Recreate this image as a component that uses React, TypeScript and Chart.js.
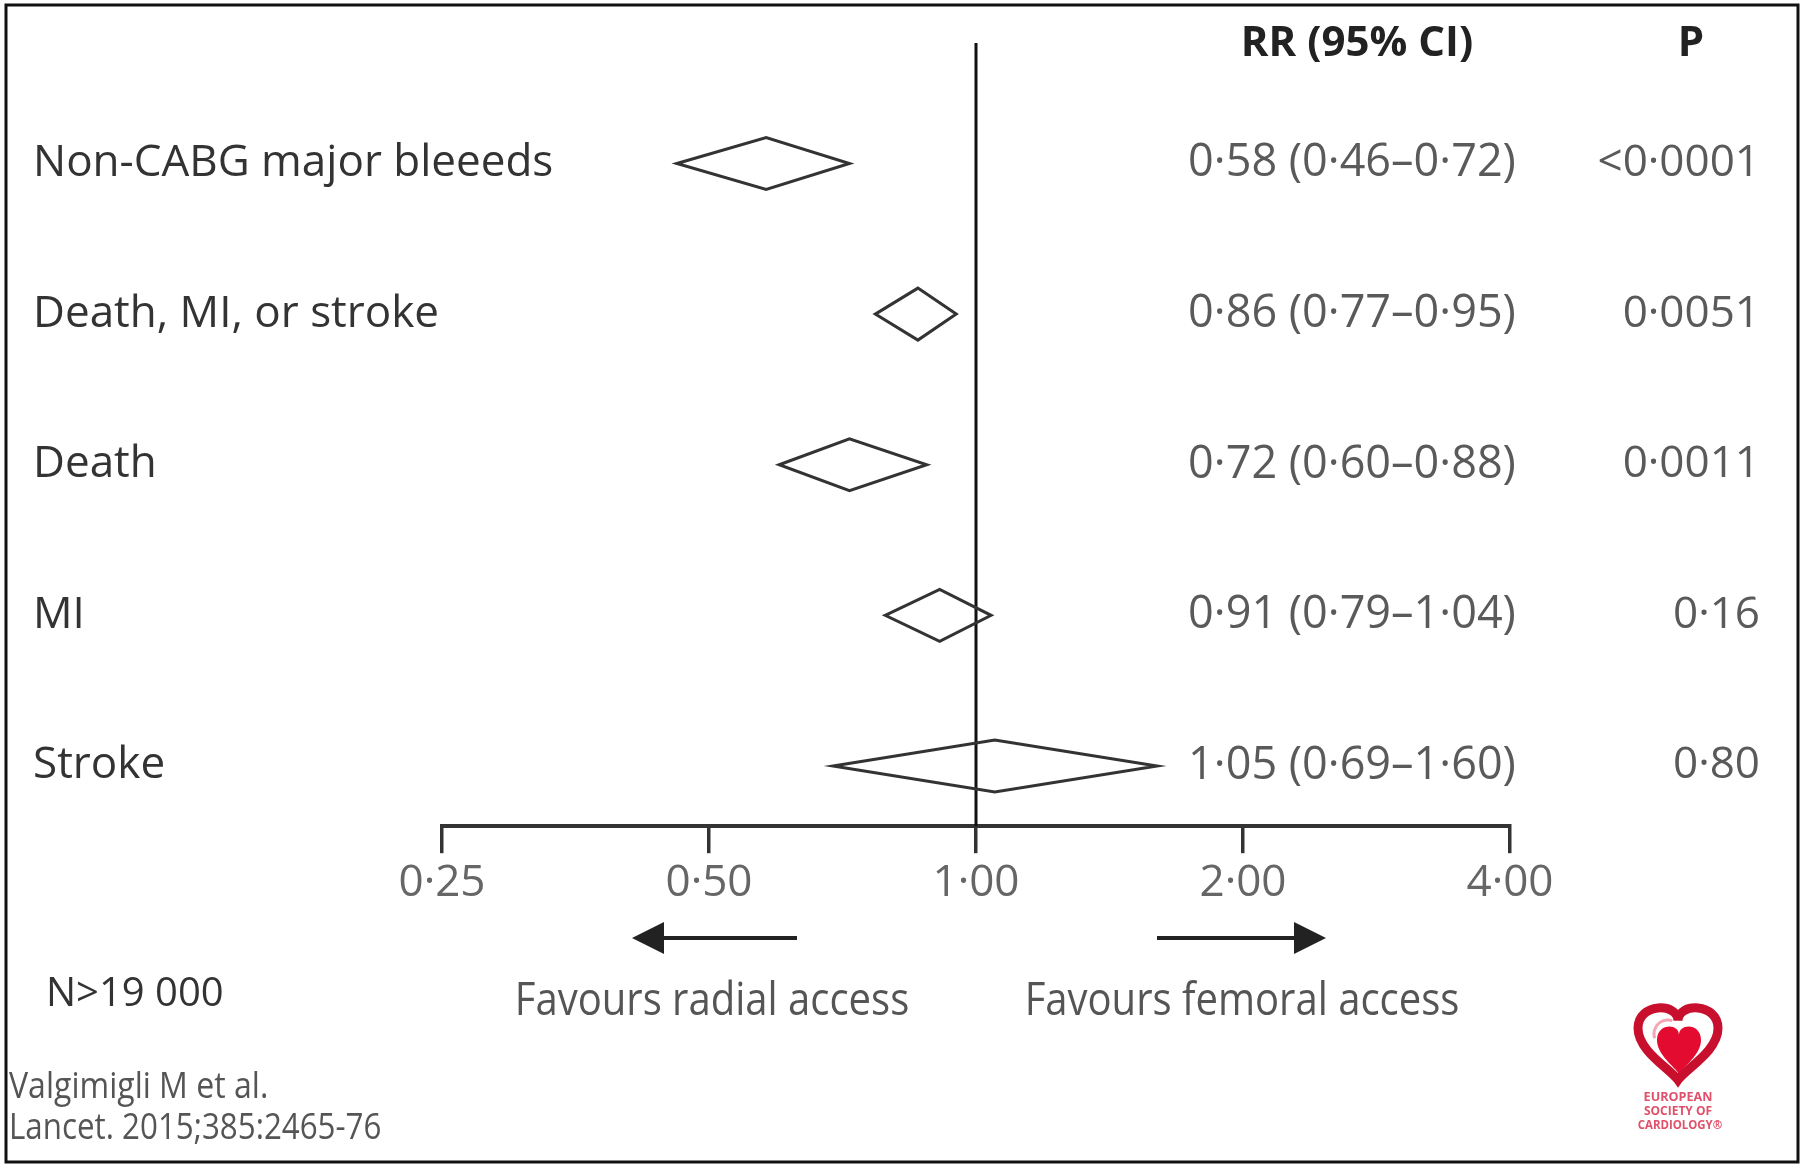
import React, { useEffect, useRef } from "react";
import { Chart, registerables } from "chart.js";

Chart.register(...registerables);

// Outcomes of the radial vs femoral access meta-analysis
const outcomes = ["Non-CABG major bleeeds", "Death, MI, or stroke", "Death", "MI", "Stroke"];
const riskRatio = [0.58, 0.86, 0.72, 0.91, 1.05];
const ciLower = [0.46, 0.77, 0.6, 0.79, 0.69];
const ciUpper = [0.72, 0.95, 0.88, 1.04, 1.6];
const pValues = ["<0·0001", "0·0051", "0·0011", "0·16", "0·80"];
const xTickValues = [0.25, 0.5, 1, 2, 4];

const W = 1806;
const H = 1167;
const FONT = '"Open Sans", "DejaVu Sans", sans-serif';

const fmt = (v: number) => v.toFixed(2).replace(".", "·");

function drawText(
  ctx: CanvasRenderingContext2D,
  text: string,
  x: number,
  y: number,
  font: string,
  color: string,
  align: "left" | "center" | "right",
  sx = 1
) {
  ctx.save();
  ctx.font = font;
  ctx.fillStyle = color;
  ctx.textBaseline = "middle";
  ctx.textAlign = "left";
  const w = ctx.measureText(text).width * sx;
  const left = align === "left" ? x : align === "right" ? x - w : x - w / 2;
  ctx.translate(left, y);
  ctx.scale(sx, 1);
  ctx.fillText(text, 0, 0);
  ctx.restore();
}

function heartPath(ctx: CanvasRenderingContext2D, cx: number, top: number, w: number, h: number) {
  ctx.beginPath();
  ctx.moveTo(cx, top + h * 0.22);
  ctx.bezierCurveTo(cx, top - h * 0.02, cx - w / 2, top - h * 0.02, cx - w / 2, top + h * 0.32);
  ctx.bezierCurveTo(cx - w / 2, top + h * 0.62, cx - w * 0.1, top + h * 0.85, cx, top + h);
  ctx.bezierCurveTo(cx + w * 0.1, top + h * 0.85, cx + w / 2, top + h * 0.62, cx + w / 2, top + h * 0.32);
  ctx.bezierCurveTo(cx + w / 2, top - h * 0.02, cx, top - h * 0.02, cx, top + h * 0.22);
  ctx.closePath();
}

function arrow(ctx: CanvasRenderingContext2D, from: number, to: number, y: number) {
  const dir = Math.sign(to - from);
  const headLen = 32;
  const headHalf = 16;
  ctx.save();
  ctx.strokeStyle = "#222";
  ctx.fillStyle = "#222";
  ctx.lineWidth = 4;
  ctx.beginPath();
  ctx.moveTo(from, y);
  ctx.lineTo(to - dir * headLen * 0.8, y);
  ctx.stroke();
  ctx.beginPath();
  ctx.moveTo(to, y);
  ctx.lineTo(to - dir * headLen, y - headHalf);
  ctx.lineTo(to - dir * headLen, y + headHalf);
  ctx.closePath();
  ctx.fill();
  ctx.restore();
}

const forestPlugin = {
  id: "forestPlot",
  afterDatasetsDraw(chart: any) {
    const ctx: CanvasRenderingContext2D = chart.ctx;
    const xs = chart.scales.x;
    const ys = chart.scales.y;
    const area = chart.chartArea;

    // line of no effect
    const x1 = xs.getPixelForValue(1);
    ctx.save();
    ctx.strokeStyle = "#111";
    ctx.lineWidth = 3;
    ctx.beginPath();
    ctx.moveTo(x1, area.top);
    ctx.lineTo(x1, area.bottom);
    ctx.stroke();
    ctx.restore();

    // diamonds: estimate with confidence interval
    const half = 26;
    ctx.save();
    ctx.strokeStyle = "#333";
    ctx.lineWidth = 3;
    ctx.lineJoin = "miter";
    outcomes.forEach((_, i) => {
      const y = ys.getPixelForValue(i);
      const lo = xs.getPixelForValue(ciLower[i]);
      const mid = xs.getPixelForValue(riskRatio[i]);
      const hi = xs.getPixelForValue(ciUpper[i]);
      ctx.beginPath();
      ctx.moveTo(lo, y);
      ctx.lineTo(mid, y - half);
      ctx.lineTo(hi, y);
      ctx.lineTo(mid, y + half);
      ctx.closePath();
      ctx.stroke();
    });
    ctx.restore();

    // headers
    drawText(ctx, "RR (95% CI)", 1357, 44, `bold 42px ${FONT}`, "#222", "center");
    drawText(ctx, "P", 1691, 44, `bold 42px ${FONT}`, "#222", "center");

    // row labels and statistics
    outcomes.forEach((name, i) => {
      const y = ys.getPixelForValue(i);
      drawText(ctx, name, 33, y, `44px ${FONT}`, "#333", "left");
      const rrText = `${fmt(riskRatio[i])} (${fmt(ciLower[i])}–${fmt(ciUpper[i])})`;
      drawText(ctx, rrText, 1352, y, `45px ${FONT}`, "#5a5a5a", "center");
      drawText(ctx, pValues[i], 1760, y, `44px ${FONT}`, "#5a5a5a", "right");
    });

    // direction arrows
    arrow(ctx, 797, 632, 938);
    arrow(ctx, 1157, 1326, 938);
    drawText(ctx, "Favours radial access", 712, 1002, `46px ${FONT}`, "#555", "center", 0.87);
    drawText(ctx, "Favours femoral access", 1242, 1002, `46px ${FONT}`, "#555", "center", 0.87);

    // sample size and citation
    drawText(ctx, "N>19 000", 46, 995, `40px ${FONT}`, "#333", "left");
    drawText(ctx, "Valgimigli M et al.", 9, 1088, `36px ${FONT}`, "#555", "left", 0.89);
    drawText(ctx, "Lancet. 2015;385:2465-76", 9, 1129, `36px ${FONT}`, "#555", "left", 0.87);

    // society logo
    ctx.save();
    heartPath(ctx, 1678, 1004, 80, 76);
    ctx.strokeStyle = "#c8102e";
    ctx.lineWidth = 9;
    ctx.stroke();
    heartPath(ctx, 1679, 1024, 44, 50);
    ctx.fillStyle = "#e30b2f";
    ctx.fill();
    ctx.strokeStyle = "#f4a6b4";
    ctx.lineWidth = 3;
    ctx.beginPath();
    ctx.arc(1668, 1034, 14, Math.PI * 0.9, Math.PI * 1.6);
    ctx.stroke();
    ctx.restore();
    drawText(ctx, "EUROPEAN", 1678, 1098, `bold 12px ${FONT}`, "#e0506a", "center", 1.05);
    drawText(ctx, "SOCIETY OF", 1678, 1112, `bold 12px ${FONT}`, "#e0506a", "center", 1.0);
    drawText(ctx, "CARDIOLOGY®", 1680, 1126, `bold 12px ${FONT}`, "#e0506a", "center", 0.95);

    // frame
    ctx.save();
    ctx.strokeStyle = "#111";
    ctx.lineWidth = 3;
    ctx.strokeRect(6, 5, 1792, 1157);
    ctx.restore();
  },
};

export default function App() {
  const canvasRef = useRef<HTMLCanvasElement | null>(null);

  useEffect(() => {
    document.body.style.margin = "0";
    document.body.style.background = "#fff";
    const canvas = canvasRef.current;
    if (!canvas) return;
    const chart = new Chart(canvas, {
      type: "scatter",
      data: {
        datasets: [
          {
            label: "RR",
            data: riskRatio.map((v, i) => ({ x: v, y: i })),
            pointRadius: 0,
            pointHoverRadius: 0,
          },
        ],
      },
      options: {
        animation: false,
        responsive: false,
        devicePixelRatio: 1,
        events: [],
        layout: { padding: { left: 442, right: W - 1510, top: 43, bottom: 253 } },
        plugins: { legend: { display: false }, tooltip: { enabled: false } },
        scales: {
          x: {
            type: "logarithmic",
            position: "bottom",
            min: 0.25,
            max: 4,
            afterBuildTicks: (axis: any) => {
              axis.ticks = xTickValues.map((v) => ({ value: v }));
            },
            grid: {
              drawOnChartArea: false,
              drawTicks: true,
              tickLength: 27,
              color: "#333",
              lineWidth: 3.5,
            },
            border: { display: true, color: "#333", width: 4 },
            ticks: {
              autoSkip: false,
              maxRotation: 0,
              padding: 4,
              color: "#666",
              font: { family: FONT, size: 44 },
              callback: (v: any) => fmt(Number(v)),
            },
          },
          y: {
            type: "linear",
            display: false,
            reverse: true,
            min: -0.8,
            max: 4.4,
          },
        },
      },
      plugins: [forestPlugin],
    });
    return () => chart.destroy();
  }, []);

  return <canvas ref={canvasRef} width={W} height={H} style={{ display: "block" }} />;
}
